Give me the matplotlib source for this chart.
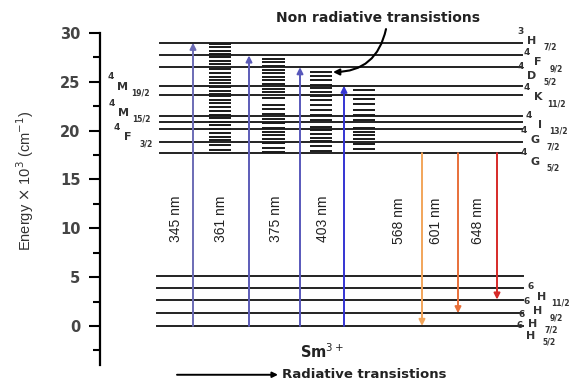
import matplotlib
matplotlib.use("Agg")
import matplotlib.pyplot as plt

# niveaux d'energie (x 10^3 cm-1)
upper_levels = [29.0, 27.7, 26.5, 24.6, 23.6, 21.5, 20.9, 20.2, 18.8, 17.7]
lower_levels = [5.1, 3.9, 2.7, 1.3, 0.0]

# bandes non radiatives (barres courtes)
stack1 = [28.9, 28.6, 28.2, 27.9, 27.5, 27.1, 26.8, 26.3, 25.9, 25.5, 25.2, 24.9,
          24.5, 24.1, 23.8, 23.5, 23.1, 22.8, 22.4, 22.0, 21.6, 21.3, 20.9, 20.6,
          20.2, 19.8, 19.4, 19.0, 18.5, 18.0]
stack2 = [27.3, 27.0, 26.6, 26.2, 25.9, 25.5, 25.2, 24.8, 24.3, 24.0, 23.3, 22.6,
          22.2, 21.7, 21.2, 20.8, 20.3, 19.9, 19.6, 19.1, 18.7, 18.2, 17.8]
stack3 = [26.0, 25.6, 25.2, 24.7, 24.4, 24.0, 23.5, 23.1, 22.6, 22.1, 21.6, 21.1,
          20.4, 20.1, 19.7, 19.2, 18.9, 18.4, 17.9]
stack4 = [24.2, 23.7, 23.2, 22.7, 22.1, 21.6, 21.1, 20.3, 19.9, 19.6, 19.1, 18.6, 18.1]
stacks = [stack1, stack2, stack3, stack4]
stack_x = [(209, 231), (262, 285), (310, 332), (353, 375)]

# transitions
abs_labels = ['345 nm', '361 nm', '375 nm', '403 nm']
abs_start = [0.0, 0.0, 0.0, 0.0]
abs_end = [29.0, 27.7, 26.5, 24.6]
abs_x = [193, 249, 300, 344]
abs_colors = ['#6b6bb5', '#5c5cb8', '#5858bb', '#3434d2']
abs_text_x = [176, 221, 276, 323]

em_labels = ['568 nm', '601 nm', '648 nm']
em_start = [17.7, 17.7, 17.7]
em_end = [0.0, 1.3, 2.7]
em_x = [422, 458, 497]
em_colors = ['#f2a55a', '#e8703a', '#d62a28']
em_text_x = [399, 436, 478]

# termes spectroscopiques (exposant, lettre, indice, x, E)
right_terms = [('3', 'H', '7/2', 521, 30.2), ('4', 'F', '9/2', 527, 28.0),
               ('4', 'D', '5/2', 521, 26.6), ('4', 'K', '11/2', 527, 24.4),
               ('4', 'I', '13/2', 529, 21.6), ('4', 'G', '7/2', 524, 20.0),
               ('4', 'G', '5/2', 524, 17.8)]
lower_terms = [('6', 'H', '11/2', 531, 4.0), ('6', 'H', '9/2', 527, 2.5),
               ('6', 'H', '7/2', 522, 1.2), ('6', 'H', '5/2', 520, 0.0)]
left_terms = [('4', 'M', '19/2', 111, 25.5), ('4', 'M', '15/2', 112, 22.8),
              ('4', 'F', '3/2', 117, 20.3)]

narrow = ['Liberation Sans Narrow', 'Liberation Sans', 'DejaVu Sans']

fig = plt.figure(figsize=(5.73, 3.80), dpi=100)
ax = fig.add_axes([100/573, 15/380, 473/573, 332/380])
ax.set_xlim(100, 573)
ax.set_ylim(-4, 30)

for s in ['top', 'right', 'bottom']:
    ax.spines[s].set_visible(False)
ax.spines['left'].set_linewidth(1.6)
ax.set_xticks([])
ax.set_yticks([0, 5, 10, 15, 20, 25, 30])
ax.set_yticks([-2.5, 2.5, 7.5, 12.5, 17.5, 22.5, 27.5], minor=True)
ax.tick_params(axis='y', which='major', length=8, width=1.5, pad=6,
               labelsize=10.5, labelcolor='#444444')
ax.tick_params(axis='y', which='minor', length=5, width=1.5)
for t in ax.get_yticklabels():
    t.set_fontweight('bold')

fig.text(25/573, 1 - 181/380, r'Energy $\times$ 10$^3$ (cm$^{-1}$)', rotation=90,
         ha='center', va='center', fontsize=10.5, color='#333333', family=narrow)

# niveaux
for e in upper_levels:
    ax.plot([160, 522], [e, e], color='#222222', lw=1.4)
for e in lower_levels:
    ax.plot([157, 523], [e, e], color='#222222', lw=1.4)

for st, (x0, x1) in zip(stacks, stack_x):
    for e in st:
        ax.plot([x0, x1], [e, e], color='#1a1a1a', lw=1.4, solid_capstyle='butt')

# fleches
for x, e0, e1, c in zip(abs_x, abs_start, abs_end, abs_colors):
    ax.annotate('', xy=(x, e1), xytext=(x, e0),
                arrowprops=dict(arrowstyle='-|>', color=c, lw=1.4,
                                mutation_scale=9, shrinkA=0, shrinkB=0))
for x, e0, e1, c in zip(em_x, em_start, em_end, em_colors):
    ax.annotate('', xy=(x, e1), xytext=(x, e0),
                arrowprops=dict(arrowstyle='-|>', color=c, lw=1.4,
                                mutation_scale=9, shrinkA=0, shrinkB=0))

for lab, x in zip(abs_labels, abs_text_x):
    ax.text(x, 11.0, lab, rotation=90, ha='center', va='center', fontsize=10,
            color='#222222', family=narrow)
for lab, x in zip(em_labels, em_text_x):
    ax.text(x, 10.8, lab, rotation=90, ha='center', va='center', fontsize=10,
            color='#222222', family=narrow)


def term(sup, letter, sub, x, e):
    kw = dict(xycoords='data', textcoords='offset points', ha='center',
              va='center', color='#333333', fontweight='bold',
              annotation_clip=False)
    ax.annotate(sup, xy=(x, e), xytext=(0, 0), fontsize=6.5, **kw)
    ax.annotate(letter, xy=(x, e), xytext=(8, -7), fontsize=8, **kw)
    ax.annotate(sub, xy=(x, e), xytext=(21, -11.5), fontsize=5.5, **kw)


for t in right_terms + lower_terms + left_terms:
    term(*t)

ax.text(378, 31.5, 'Non radiative transistions', ha='center', va='center',
        fontsize=10, fontweight='bold', color='#222222')
ax.annotate('', xy=(333, 26.0), xytext=(386, 30.4),
            arrowprops=dict(arrowstyle='-|>', color='black', lw=1.5,
                            mutation_scale=9, shrinkA=0, shrinkB=0,
                            connectionstyle='arc3,rad=-0.4'))

ax.text(322, -2.6, r'Sm$^{3+}$', ha='center', va='center', fontsize=10.5,
        fontweight='bold', color='#222222')
ax.annotate('', xy=(278, -5.0), xytext=(177, -5.0), annotation_clip=False,
            arrowprops=dict(arrowstyle='-|>', color='black', lw=1.4,
                            mutation_scale=8, shrinkA=0, shrinkB=0))
ax.text(282, -5.0, 'Radiative transistions', ha='left', va='center',
        fontsize=9.5, fontweight='bold', color='#222222')

fig.savefig('out.png', dpi=100)
